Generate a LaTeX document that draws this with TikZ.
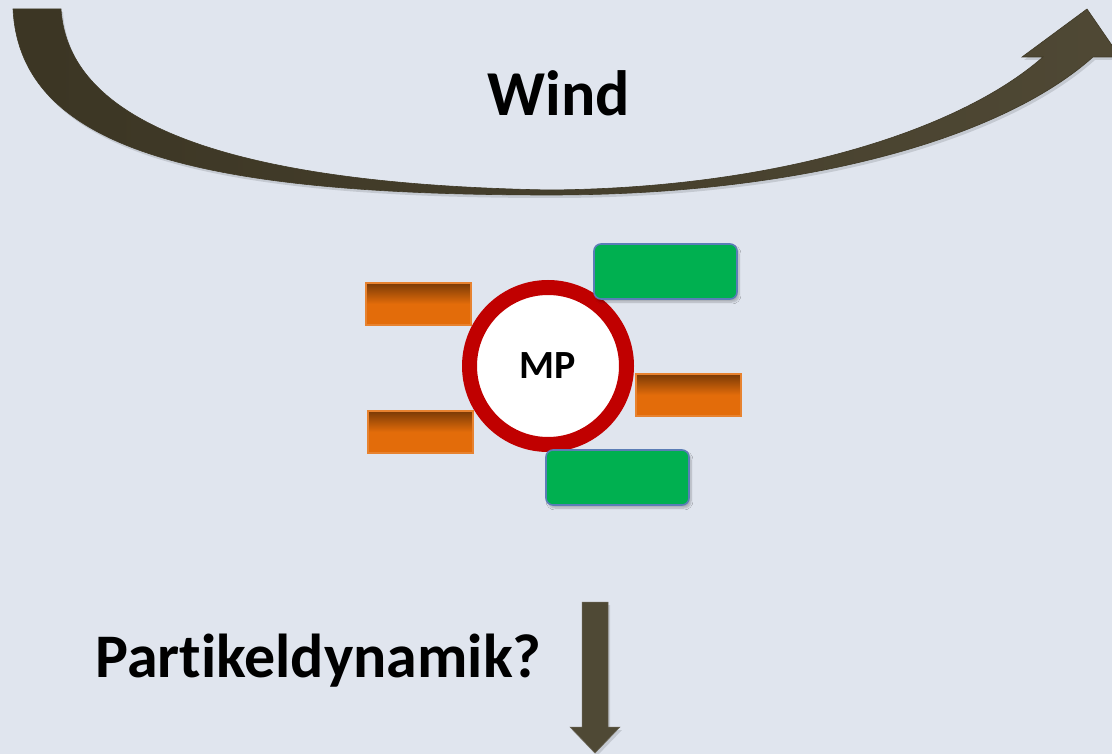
\documentclass[tikz,border=0pt]{standalone}
\usepackage{fontspec}
\setmainfont[Ligatures=NoCommon]{Carlito}
\usetikzlibrary{shadows.blur}
\definecolor{bg}{HTML}{E0E5EE}
\definecolor{arrowc}{HTML}{463F2A}
\definecolor{ringred}{HTML}{C00000}
\definecolor{orangec}{HTML}{E36C0A}
\definecolor{orangedark}{HTML}{7A3A06}
\definecolor{greenc}{HTML}{00B050}
\definecolor{greenborder}{HTML}{5B7DB6}
\tikzset{
  orangebox/.style={draw=orangec!85!white, line width=1.5pt, top color=orangedark, bottom color=orangec, middle color=orangec, shading angle=0},
  greenbox/.style={draw=greenborder, line width=1.6pt, fill=greenc, rounded corners=7pt, blur shadow={shadow xshift=2pt, shadow yshift=-3pt, shadow opacity=25, shadow blur steps=6}},
  bigtext/.style={font=\bfseries\fontsize{64}{76}\selectfont, inner sep=0pt},
}
\begin{document}
\begin{tikzpicture}[x=1pt,y=-1pt]
\fill[bg] (0,0) rectangle (1112,754);
\useasboundingbox (0,0) rectangle (1112,754);
% curved wind arrow (shadow)
\fill[black, opacity=0.12, shift={(2,3)}]
  (13,9) .. controls (20,150) and (200,195) .. (550,195)
  .. controls (800,195) and (1000,140) .. (1093,57)
  -- (1120,57) -- (1087,9) -- (1022,57) -- (1043,57)
  .. controls (960,130) and (780,188) .. (550,190)
  .. controls (220,184) and (68,120) .. (61,9) -- cycle;
\shade[left color=arrowc!85!black, right color=arrowc!95!white, draw=arrowc!90!black, line width=0.6pt]
  (13,9) .. controls (20,150) and (200,195) .. (550,195)
  .. controls (800,195) and (1000,140) .. (1093,57)
  -- (1120,57) -- (1087,9) -- (1022,57) -- (1043,57)
  .. controls (960,130) and (780,188) .. (550,190)
  .. controls (220,184) and (68,120) .. (61,9) -- cycle;
\node[bigtext, anchor=base] (wind) at (559,116) {Wind};
% orange boxes
\shade[orangebox] (366,283) rectangle (471,325);
\shade[orangebox] (368,411) rectangle (473,453);
\shade[orangebox] (636,374) rectangle (741,416);
% circle MP
\node[circle, draw=ringred, line width=15pt, fill=white, minimum size=157pt, inner sep=0pt,
      blur shadow={shadow xshift=2pt, shadow yshift=-3pt, shadow opacity=25, shadow blur steps=6},
      font=\bfseries\fontsize{40}{48}\selectfont] (mp) at (548,366) {MP};
% green boxes
\draw[greenbox] (594,244) rectangle (737,299);
\draw[greenbox] (546,450) rectangle (689,505);
% text
\node[font=\bfseries\fontsize{62}{74}\selectfont, inner sep=0pt, anchor=base west] (pd) at (95,677) {Partikeldynamik?};
% down arrow
\fill[black, opacity=0.12, shift={(2,3)}] (582,602) -- (608,602) -- (608,727) -- (620,727) -- (595,753) -- (570,727) -- (582,727) -- cycle;
\fill[arrowc!95!white, draw=arrowc!80!white, line width=0.5pt] (582,602) -- (608,602) -- (608,727) -- (620,727) -- (595,753) -- (570,727) -- (582,727) -- cycle;
\end{tikzpicture}
\end{document}
